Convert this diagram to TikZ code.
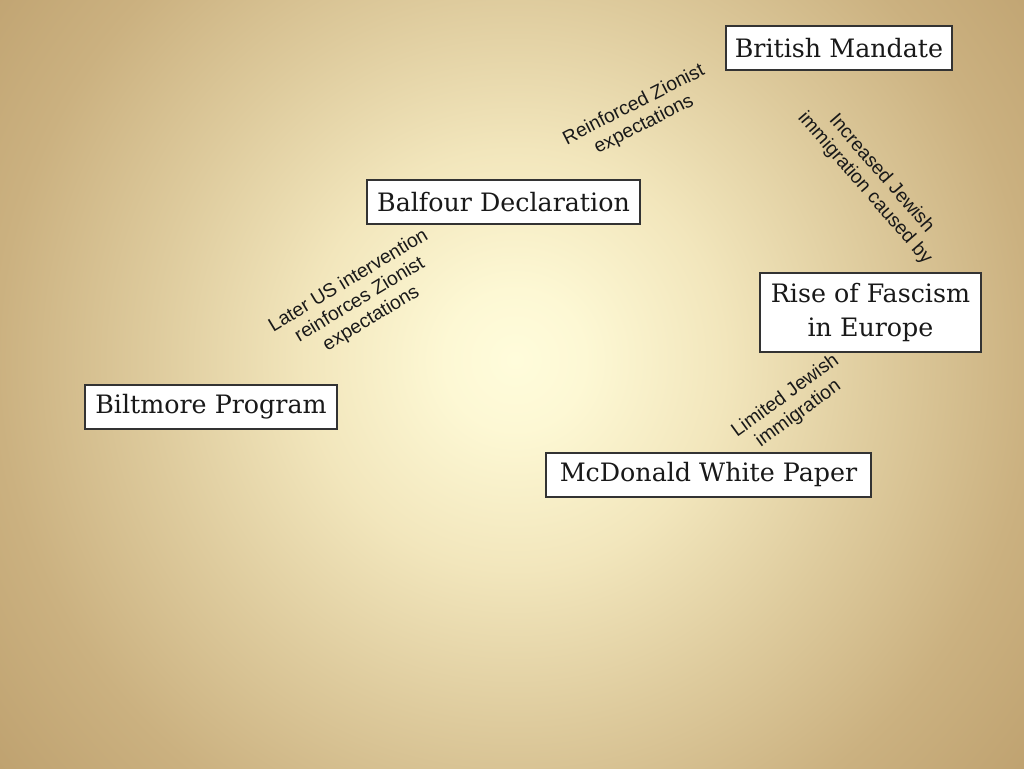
\documentclass[tikz,border=0pt]{standalone}
\usepackage{fontspec}
\setmainfont{Liberation Sans}
\newfontfamily\boxfont{DejaVu Serif}
\definecolor{bgA}{HTML}{FFFCDB}
\definecolor{bgB}{HTML}{FDF8D4}
\definecolor{bgC}{HTML}{F2E6BC}
\definecolor{bgD}{HTML}{DECB9D}
\definecolor{bgE}{HTML}{CBB180}
\definecolor{bgF}{HTML}{BFA270}
\definecolor{boxline}{HTML}{333333}
\pgfdeclareradialshading{slidebg}{\pgfpoint{0bp}{0bp}}{color(0bp)=(bgA); color(2.5bp)=(bgB); color(7.5bp)=(bgC); color(13bp)=(bgD); color(18.5bp)=(bgE); color(23.5bp)=(bgF); color(50bp)=(bgF)}
\tikzset{
  concept/.style={draw=boxline, line width=0.9pt, fill=white, font=\boxfont\fontsize{19}{26}\selectfont, text=black!90, align=center, inner sep=0pt},
  linklabel/.style={font=\fontsize{14.5}{16.5}\selectfont, text=black!90, align=center, inner sep=0pt}
}
\begin{document}
\begin{tikzpicture}[x=0.75pt,y=-0.75pt]
\begin{scope}
\clip (0,0) rectangle (1024,768);
\shade[shading=slidebg] (515-700,360-700) rectangle (515+700,360+700);
\end{scope}
\useasboundingbox (0,0) rectangle (1024,768);
\node[concept, minimum width=226*0.75pt, minimum height=44*0.75pt] (mandate) at (839,48) {British Mandate};
\node[concept, minimum width=273*0.75pt, minimum height=44*0.75pt] (balfour) at (503.5,202) {Balfour Declaration};
\node[concept, minimum width=252*0.75pt, minimum height=44*0.75pt] (biltmore) at (211,407) {Biltmore Program};
\node[concept, minimum width=221*0.75pt, minimum height=79*0.75pt] (fascism) at (870.5,312.5) {Rise of Fascism\\in Europe};
\node[concept, minimum width=325*0.75pt, minimum height=44*0.75pt] (whitepaper) at (708.5,475) {McDonald White Paper};
\node[linklabel, rotate=27] (l1) at (639,115) {Reinforced Zionist\\expectations};
\node[linklabel, rotate=-49] (l2) at (873,181) {Increased Jewish\\immigration caused by};
\node[linklabel, rotate=31] (l3) at (360,300) {Later US intervention\\reinforces Zionist\\expectations};
\node[linklabel, rotate=36] (l4) at (792,405) {Limited Jewish\\immigration};
\end{tikzpicture}
\end{document}
